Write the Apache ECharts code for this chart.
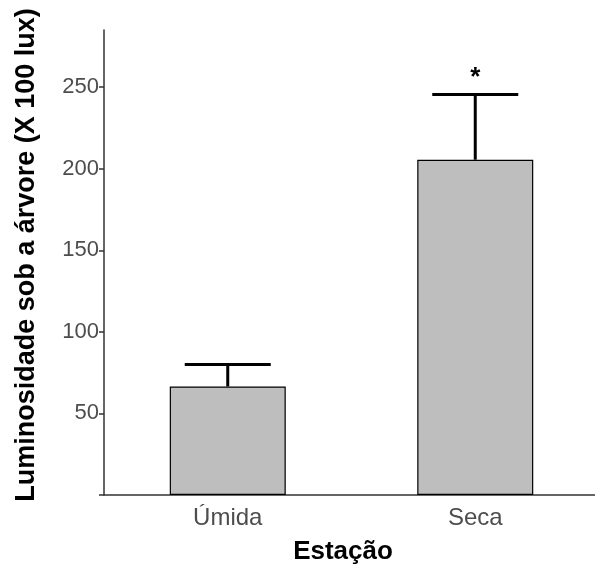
<!DOCTYPE html>
<html>
<head>
<meta charset="utf-8">
<script src="https://cdn.jsdelivr.net/npm/echarts@6/dist/echarts.min.js"></script>
<style>
  html, body { margin: 0; padding: 0; background: #ffffff; }
  #chart { width: 595px; height: 567px; }
</style>
</head>
<body>
<div id="chart"></div>
<script>
const categories = ['Úmida', 'Seca'];
const means = [66.5, 205.5];
const errors = [13.5, 40];
const significance = ['', '*'];
const yTicks = [0, 50, 100, 150, 200, 250];
const yLabels = [50, 100, 150, 200, 250];
const xTitle = 'Estação';
const yTitle = 'Luminosidade sob a árvore (X 100 lux)';

const font = '"Liberation Sans", Arial, sans-serif';
const chart = echarts.init(document.getElementById('chart'), null, { renderer: 'canvas' });

const errData = categories.map((c, i) => [i, means[i], errors[i], significance[i]]);

chart.setOption({
  animation: false,
  backgroundColor: '#ffffff',
  grid: { left: 104, top: 30, width: 495, height: 465, containLabel: false, outerBoundsMode: 'none' },
  xAxis: {
    type: 'category',
    data: categories,
    axisLine: { lineStyle: { color: '#333333', width: 1.5 } },
    axisTick: { alignWithLabel: true, length: 5, lineStyle: { color: '#333333', width: 1.5 } },
    axisLabel: { color: '#4d4d4d', fontFamily: font, fontSize: 24, margin: 11 },
    name: xTitle,
    nameLocation: 'middle',
    nameGap: 44,
    nameTextStyle: { color: '#000000', fontFamily: font, fontSize: 26, fontWeight: 'bold', padding: [0, 17, 0, 0] }
  },
  yAxis: {
    type: 'value',
    min: 0,
    max: 285,
    interval: 50,
    splitLine: { show: false },
    axisLine: { show: true, lineStyle: { color: '#333333', width: 1.5 } },
    axisTick: { show: true, length: 5, customValues: yTicks, lineStyle: { color: '#333333', width: 1.5 } },
    axisLabel: { color: '#4d4d4d', fontFamily: font, fontSize: 22, margin: 5, customValues: yLabels },
    name: yTitle,
    nameLocation: 'middle',
    nameRotate: 90,
    nameGap: 64,
    nameTextStyle: { color: '#000000', fontFamily: font, fontSize: 27, fontWeight: 'bold', padding: [0, 0, 0, 15] }
  },
  series: [
    {
      type: 'bar',
      data: means,
      barWidth: 116,
      itemStyle: { color: '#bebebe', borderColor: '#000000', borderWidth: 1.2 },
      z: 2
    },
    {
      type: 'custom',
      data: errData,
      z: 3,
      renderItem: function (params, api) {
        const x = api.value(0);
        const m = api.value(1);
        const e = api.value(2);
        const lbl = significance[params.dataIndex];
        const p0 = api.coord([x, m]);
        const p1 = api.coord([x, m + e]);
        const half = 43;
        const style = { stroke: '#000000', lineWidth: 3 };
        const children = [
          { type: 'line', shape: { x1: p0[0], y1: p0[1], x2: p1[0], y2: p1[1] }, style: style },
          { type: 'line', shape: { x1: p1[0] - half, y1: p1[1], x2: p1[0] + half, y2: p1[1] }, style: style }
        ];
        if (lbl) {
          children.push({
            type: 'text',
            x: p1[0],
            y: p1[1] - 4,
            style: { text: lbl, fill: '#000000', font: 'bold 26px ' + font, textAlign: 'center', textVerticalAlign: 'bottom' }
          });
        }
        return { type: 'group', children: children };
      }
    }
  ]
});
</script>
</body>
</html>
